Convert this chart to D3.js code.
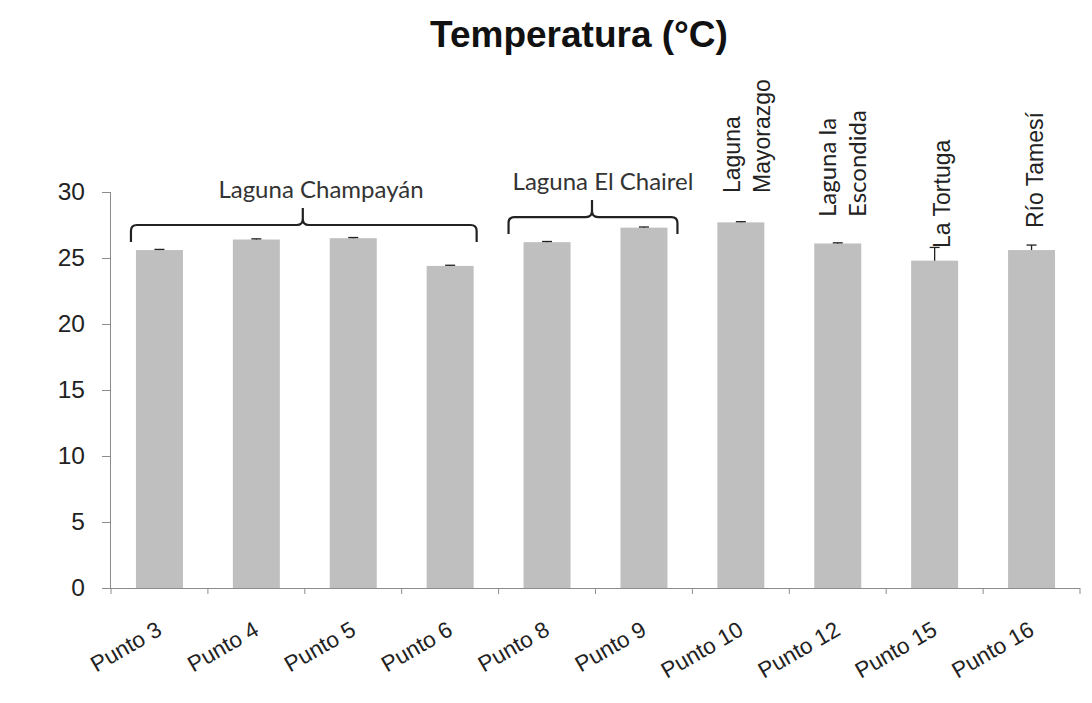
<!DOCTYPE html>
<html><head><meta charset="utf-8">
<script src="https://cdn.jsdelivr.net/npm/d3@7"></script>
<style>body{margin:0;background:#fff}svg{display:block}</style>
</head><body>
<svg id="c" width="1092" height="703"></svg>
<script>
const categories = ["Punto 3","Punto 4","Punto 5","Punto 6","Punto 8","Punto 9","Punto 10","Punto 12","Punto 15","Punto 16"];
const values = [25.6, 26.4, 26.5, 24.4, 26.2, 27.3, 27.7, 26.1, 24.8, 25.6];
const errors = [0.05, 0.05, 0.05, 0.05, 0.05, 0.05, 0.05, 0.05, 1.0, 0.38];
const yTicks = [0, 5, 10, 15, 20, 25, 30];
const title = "Temperatura (°C)";
const groupLabels = ["Laguna Champayán", "Laguna El Chairel"];
const groupFrom = ["Punto 3", "Punto 8"];
const groupTo = ["Punto 6", "Punto 9"];
const groupLevel = [27.5, 28.1];
const siteLabels = [["Laguna", "Mayorazgo"], ["Laguna la", "Escondida"], ["La Tortuga"], ["Río Tamesí"]];
const siteAt = ["Punto 10", "Punto 12", "Punto 15", "Punto 16"];

(function () {
const svg = d3.select("#c");
const mL = 111, mR = 1080, mT = 192, mB = 588;
const x = d3.scaleBand().domain(categories).range([mL, mR]).paddingInner(0.515).paddingOuter(0.2575);
const y = d3.scaleLinear().domain([0, 30]).range([mB, mT]);
const axisColor = "#8c8c8c";
const arial = "'Liberation Sans', Arial, sans-serif";
const cal = "Lato, 'Open Sans', sans-serif";

// title
svg.append("text").attr("x", 579).attr("y", 47).attr("text-anchor", "middle")
  .attr("font-family", arial).attr("font-weight", "bold").attr("font-size", 37).attr("fill", "#111").text(title);

// bars
svg.append("g").selectAll("rect").data(categories).join("rect")
  .attr("x", d => x(d)).attr("width", x.bandwidth())
  .attr("y", (d, i) => y(values[i])).attr("height", (d, i) => y(0) - y(values[i]))
  .attr("fill", "#bfbfbf");

// error bars (upper)
const eg = svg.append("g").attr("stroke", "#222").attr("stroke-width", 1.3);
categories.forEach((c, i) => {
  const cx = x(c) + x.bandwidth() / 2;
  eg.append("line").attr("x1", cx).attr("x2", cx).attr("y1", y(values[i])).attr("y2", y(values[i] + errors[i]));
  eg.append("line").attr("x1", cx - 5).attr("x2", cx + 5).attr("y1", y(values[i] + errors[i])).attr("y2", y(values[i] + errors[i]));
});

// y axis
const yAxis = svg.append("g").attr("transform", `translate(${mL},0)`)
  .call(d3.axisLeft(y).tickValues(yTicks).tickSize(9).tickPadding(17));
yAxis.select(".domain").attr("stroke", axisColor).attr("d", `M-0.5,${mB}V${mT}`);
yAxis.selectAll(".tick line").attr("stroke", axisColor);
yAxis.selectAll(".tick text").attr("font-family", arial).attr("font-size", 24.5).attr("fill", "#222");

// x axis
const xg = svg.append("g");
xg.append("line").attr("x1", mL).attr("x2", mR).attr("y1", mB + 0.5).attr("y2", mB + 0.5).attr("stroke", axisColor);
const step = x.step();
const bounds = d3.range(categories.length + 1).map(i => mL + i * step);
xg.selectAll("line.t").data(bounds).join("line").attr("class", "t")
  .attr("x1", d => d).attr("x2", d => d).attr("y1", mB).attr("y2", mB + 6).attr("stroke", axisColor);
xg.selectAll("text").data(categories).join("text")
  .attr("transform", d => `translate(${x(d) + x.bandwidth() / 2 + 4},634) rotate(-30)`)
  .attr("text-anchor", "end").attr("font-family", arial).attr("font-size", 22.5).attr("fill", "#222")
  .text(d => d);

// group brackets
groupLabels.forEach((lab, i) => {
  const x0 = x(groupFrom[i]) - (i === 0 ? 5 : 15);
  const x1 = x(groupTo[i]) + x.bandwidth() + (i === 0 ? 3 : 10);
  const yy = y(groupLevel[i]);
  const cx = (x0 + x1) / 2 - 1;
  const r = 6, drop = 17, up = 17;
  const p = `M${x0},${yy + drop}V${yy + r}Q${x0},${yy} ${x0 + r},${yy}H${cx - r}Q${cx},${yy} ${cx},${yy - r}V${yy - up}` +
            `M${cx},${yy - r}Q${cx},${yy} ${cx + r},${yy}H${x1 - r}Q${x1},${yy} ${x1},${yy + r}V${yy + drop}`;
  svg.append("path").attr("d", p).attr("fill", "none").attr("stroke", "#222").attr("stroke-width", 2.2);
  svg.append("text").attr("x", (i === 0 ? 321 : 603)).attr("y", yy - 27).attr("text-anchor", "middle")
    .attr("font-family", cal).attr("font-size", 24).attr("fill", "#333").text(lab);
});

// vertical site labels
const siteStart = [193, 217, 248, 228];
const siteFont = [arial, cal, arial, arial];
const siteSize = [23, 24, 23, 23];
const siteShift = [29, 28, 15, 11];
siteLabels.forEach((lines, i) => {
  const cx = x(siteAt[i]) + x.bandwidth() / 2;
  const n = lines.length;
  lines.forEach((t, j) => {
    const bx = cx + siteShift[i] - (n - 1 - j) * 30;
    svg.append("text").attr("transform", `translate(${bx},${siteStart[i]}) rotate(-90)`)
      .attr("font-family", siteFont[i]).attr("font-size", siteSize[i]).attr("fill", "#222").text(t);
  });
});
})();
</script>
</body></html>
